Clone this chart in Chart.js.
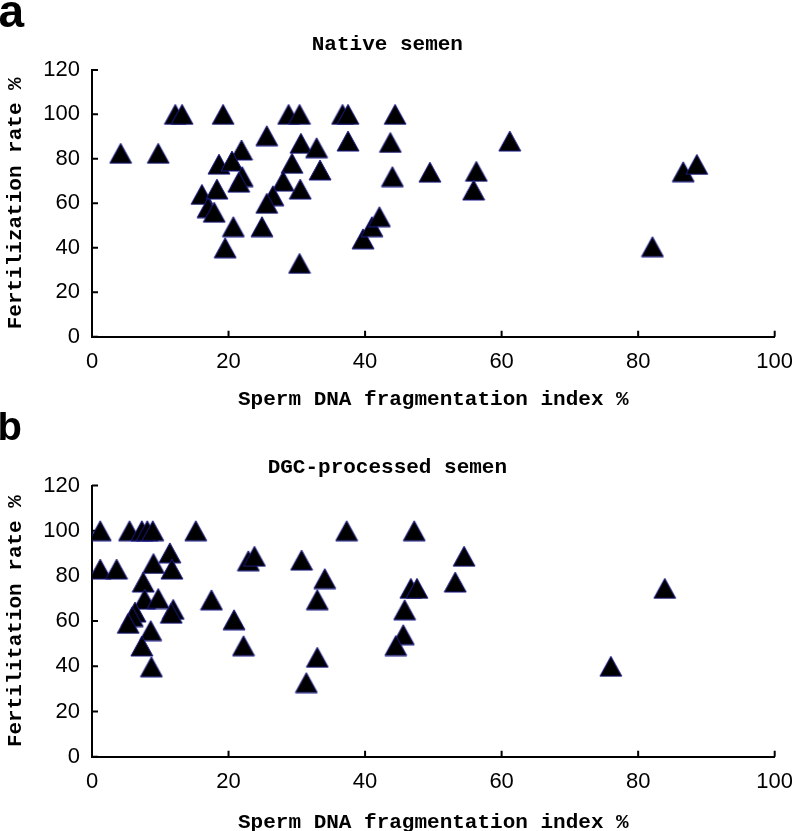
<!DOCTYPE html>
<html>
<head>
<meta charset="utf-8">
<title>Sperm DNA fragmentation vs fertilization rate</title>
<script src="https://cdn.jsdelivr.net/npm/chart.js@4.4.1/dist/chart.umd.min.js"></script>
<style>
  html, body { margin: 0; padding: 0; background: #fff; width: 792px; height: 831px; overflow: hidden; }
  canvas { position: absolute; left: 0; }
</style>
</head>
<body>
<canvas id="native" width="792" height="412" style="top:0px"></canvas>
<canvas id="dgc" width="792" height="423" style="top:412px"></canvas>
<script>
// values: x = sperm DNA fragmentation index %, y = fertilization rate %
const nativeDfi = [4.2, 9.7, 12.2, 13.2, 19.2, 28.8, 30.4, 36.7, 37.5, 44.4,
  25.6, 30.6, 32.9, 37.5, 21.9, 18.6, 20.5, 22.0, 21.5, 29.3,
  33.4, 28.0, 30.5, 26.5, 25.6, 16.1, 18.3, 17.0, 17.9, 20.7,
  24.9, 19.5, 30.4, 39.7, 41.0, 42.1, 43.7, 44.0, 49.5, 56.3,
  55.9, 61.2, 86.6, 88.6, 82.1]
const nativeFert = [82.5, 82.5, 100, 100, 100, 100, 100, 100, 100, 100,
  90.4, 87, 85, 88, 84, 77.6, 79, 72, 69.5, 78,
  75, 70, 66.4, 63.4, 60, 64, 66.4, 58, 56, 49.5,
  49.5, 40, 33, 44, 49.5, 54, 87.4, 72, 74, 74.4,
  66, 88, 74.2, 77.5, 40.5]

const dgcDfi = [1.2, 5.5, 7.3, 8.1, 8.9, 15.2, 37.3, 47.2,
  1.2, 3.6, 9.0, 11.4, 11.7, 22.9, 23.8, 30.7, 34.1, 7.5,
  7.7, 9.7, 6.3, 5.9, 11.9, 11.6, 5.3, 8.6, 7.3, 8.7,
  17.5, 20.8, 22.2, 33.0, 33.0, 31.4,
  54.5, 53.2, 46.7, 47.6, 45.8, 45.6, 44.5, 83.9, 76.0]
const dgcFert = [100, 100, 100, 100, 100, 100, 100, 100,
  83, 83, 85.5, 90.2, 83, 86.7, 88.7, 87, 78.8, 77.3,
  69.7, 70, 64, 62, 65.2, 63.5, 59, 55.8, 49, 39.8,
  69.4, 60.6, 49.1, 69.5, 44, 32.8,
  88.7, 77.3, 74.5, 74.5, 65, 54, 49.2, 74.5, 40]

const xTicks = [0, 20, 40, 60, 80, 100]
const yTicks = [0, 20, 40, 60, 80, 100, 120]

const xTitle = "Sperm DNA fragmentation index %"

// filled triangle marker, centred on its box like the original
function triangleMarker() {
  const c = document.createElement("canvas")
  c.width = 24
  c.height = 22
  const g = c.getContext("2d")
  g.beginPath()
  g.moveTo(12, 1)
  g.lineTo(23, 21)
  g.lineTo(1, 21)
  g.closePath()
  g.fillStyle = "#000"
  g.fill()
  g.strokeStyle = "#1c1c8c"
  g.lineWidth = 1
  g.stroke()
  return c
}
const marker = triangleMarker()

// tick marks pointing into the plot
const innerTicks = {
  id: "innerTicks",
  beforeDatasetsDraw(chart) {
    const {ctx, chartArea, scales} = chart
    ctx.save()
    ctx.strokeStyle = "#000"
    ctx.lineWidth = 2
    ctx.beginPath()
    scales.x.ticks.forEach(t => {
      const px = scales.x.getPixelForValue(t.value)
      ctx.moveTo(px, chartArea.bottom)
      ctx.lineTo(px, chartArea.bottom - 6)
    })
    scales.y.ticks.forEach(t => {
      const py = scales.y.getPixelForValue(t.value)
      ctx.moveTo(chartArea.left, py)
      ctx.lineTo(chartArea.left + 6, py)
    })
    ctx.stroke()
    ctx.restore()
  }
}

// the bold panel letter in the corner
const panelLetter = {
  id: "panelLetter",
  afterDraw(chart, args, opts) {
    const ctx = chart.ctx
    ctx.save()
    ctx.fillStyle = "#000"
    ctx.font = "bold " + opts.size + "px 'Liberation Sans', Arial, sans-serif"
    ctx.textBaseline = "alphabetic"
    ctx.textAlign = "left"
    ctx.fillText(opts.text, opts.x, opts.y)
    ctx.restore()
  }
}

const monoFont = {family: "'Liberation Mono', 'Courier New', monospace", size: 21, weight: "bold"}
const tickFont = {family: "'Liberation Sans', Arial, sans-serif", size: 22}

function makeChart(id, cfg) {
  return new Chart(document.getElementById(id), {
    type: "scatter",
    data: {
      datasets: [{
        data: cfg.xs.map((x, i) => ({x: x, y: cfg.ys[i]})),
        pointStyle: marker,
        pointRadius: 12,
        pointHoverRadius: 12,
        backgroundColor: "#000",
        borderColor: "#1c1c8c"
      }]
    },
    options: {
      responsive: false,
      animation: false,
      events: [],
      layout: {padding: {left: 0, top: 0, right: 17.3, bottom: 0}},
      plugins: {
        legend: {display: false},
        tooltip: {enabled: false},
        title: {
          display: true,
          text: cfg.title,
          color: "#000",
          font: monoFont,
          padding: {top: cfg.titleTop, bottom: cfg.titleBottom}
        },
        panelLetter: cfg.letter
      },
      scales: {
        x: {
          type: "linear",
          min: 0,
          max: 100,
          afterBuildTicks: s => { s.ticks = xTicks.map(v => ({value: v})) },
          afterFit: s => { s.height = cfg.xHeight; s.paddingLeft = 0; s.paddingRight = 0 },
          grid: {display: false},
          border: {display: true, color: "#000", width: 2},
          ticks: {color: "#000", font: tickFont, padding: 4, maxRotation: 0, autoSkip: false},
          title: {display: true, text: xTitle, color: "#000", font: monoFont, padding: {top: 0, bottom: 0}}
        },
        y: {
          type: "linear",
          min: 0,
          max: 120,
          afterBuildTicks: s => { s.ticks = yTicks.map(v => ({value: v})) },
          afterFit: s => { s.width = 92; s.paddingTop = 0; s.paddingBottom = 0 },
          grid: {display: false},
          border: {display: true, color: "#000", width: 2},
          ticks: {color: "#000", font: tickFont, padding: 4},
          title: {display: true, text: cfg.yTitle, color: "#000", font: monoFont, padding: {top: 3.4, bottom: 0}}
        }
      }
    },
    plugins: [innerTicks, panelLetter]
  })
}

makeChart("native", {
  xs: nativeDfi,
  ys: nativeFert,
  title: "Native semen",
  yTitle: "Fertilization rate %",
  titleTop: 31.8,
  titleBottom: 12.9,
  xHeight: 75.3,
  letter: {text: "a", x: -1.5, y: 27, size: 46}
})

makeChart("dgc", {
  xs: dgcDfi,
  ys: dgcFert,
  title: "DGC-processed semen",
  yTitle: "Fertilitation rate %",
  titleTop: 43.1,
  titleBottom: 5.2,
  xHeight: 78.3,
  letter: {text: "b", x: -2.5, y: 28, size: 40}
})
</script>
</body>
</html>
